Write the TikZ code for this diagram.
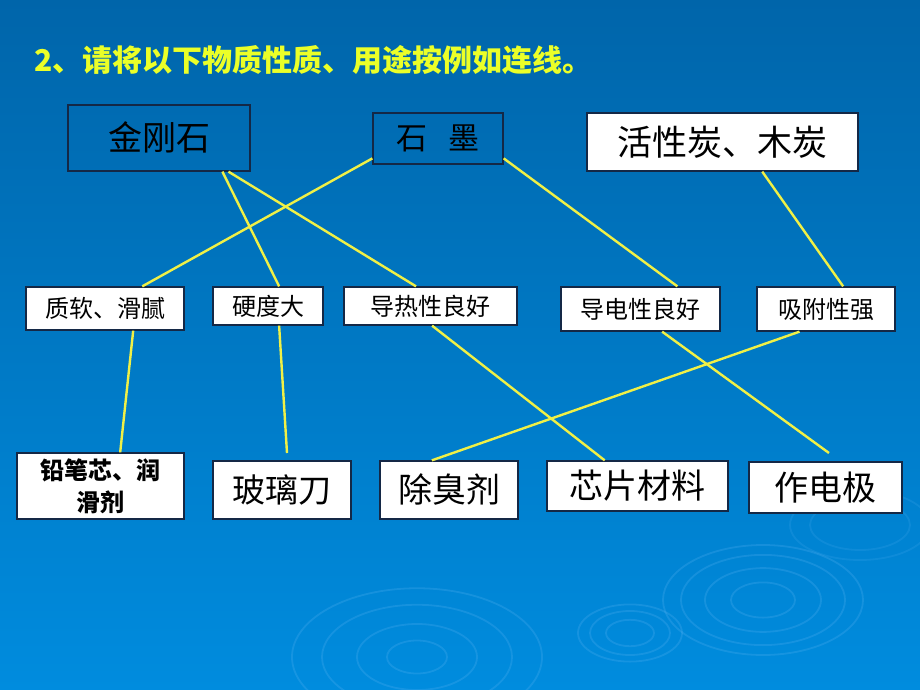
\documentclass[tikz,border=0pt]{standalone}
\usepackage{fontspec}
\newfontfamily\cjk{Noto Sans CJK SC}
\usetikzlibrary{calc}
\definecolor{bgtop}{RGB}{0,101,170}
\definecolor{bgmid}{RGB}{0,110,185}
\definecolor{bgbot}{RGB}{0,140,222}
\definecolor{ttl}{RGB}{235,255,40}
\definecolor{lnk}{RGB}{240,240,70}
\definecolor{bord}{RGB}{20,40,70}
\definecolor{ripple}{RGB}{80,175,240}
\begin{document}
\begin{tikzpicture}[x=1pt,y=-1pt,
  box/.style={draw=bord, line width=1.3pt, fill=white, inner sep=0pt, text=black, font=\cjk},
  darkbox/.style={box, fill=none},
  link/.style={draw=lnk, line width=2.4pt},
  rip/.style={draw=ripple, line width=1.8pt, opacity=0.28}]
\useasboundingbox (0,0) rectangle (920,690);
\shade[top color=bgtop, middle color=bgmid, bottom color=bgbot] (0,0) rectangle (920,690);
% ripples
\foreach \r in {100,82,58,32} {\draw[rip] (763,600) ellipse [x radius=\r pt, y radius=0.55*\r pt];}
\foreach \r in {52,40,24} {\draw[rip] (630,633) ellipse [x radius=\r pt, y radius=0.55*\r pt];}
\foreach \r in {125,95,60,30} {\draw[rip] (417,657) ellipse [x radius=\r pt, y radius=0.55*\r pt];}
\foreach \r in {70,50} {\draw[rip, opacity=0.18] (860,525) ellipse [x radius=\r pt, y radius=0.5*\r pt];}
% title
\node[anchor=west, text=ttl, inner sep=0pt, font=\cjk\bfseries\fontsize{30}{36}\selectfont] (title) at (34,60) {2、请将以下物质性质、用途按例如连线。};
% top row
\node[darkbox, minimum width=182pt, minimum height=66pt, font=\cjk\fontsize{34}{40}\selectfont] (jgs) at (159,138) {\raisebox{3pt}{金刚石}};
\node[darkbox, minimum width=130pt, minimum height=51pt, font=\cjk\fontsize{31}{36}\selectfont] (sm) at (438,138.5) {石\hspace{0.7em}墨};
\node[box, minimum width=271pt, minimum height=58pt, font=\cjk\fontsize{35}{40}\selectfont] (hxt) at (722.5,142) {活性炭、木炭};
% middle row
\node[box, minimum width=158pt, minimum height=43pt, font=\cjk\fontsize{24}{28}\selectfont] (zr) at (105,308.5) {质软、滑腻};
\node[box, minimum width=110pt, minimum height=38pt, font=\cjk\fontsize{24}{28}\selectfont] (yd) at (268,306) {硬度大};
\node[box, minimum width=173pt, minimum height=38pt, font=\cjk\fontsize{24}{28}\selectfont] (drx) at (430.5,306) {导热性良好};
\node[box, minimum width=159pt, minimum height=44pt, font=\cjk\fontsize{24}{28}\selectfont] (ddx) at (640.5,309) {导电性良好};
\node[box, minimum width=138pt, minimum height=44pt, font=\cjk\fontsize{24}{28}\selectfont] (xf) at (826,309) {吸附性强};
% bottom row
\node[box, minimum width=167pt, minimum height=66pt, align=center, font=\cjk\bfseries\fontsize{24}{32}\selectfont] (qbx) at (100.5,486) {\raisebox{-5pt}{铅笔芯、润}\\\raisebox{-5pt}{滑剂}};
\node[box, minimum width=138pt, minimum height=58pt, font=\cjk\fontsize{33}{38}\selectfont] (blq) at (282,490) {玻璃刀};
\node[box, minimum width=138pt, minimum height=58pt, font=\cjk\fontsize{34}{38}\selectfont] (ccj) at (449,490) {除臭剂};
\node[box, minimum width=181pt, minimum height=50pt, font=\cjk\fontsize{34}{38}\selectfont] (xp) at (637.5,486) {芯片材料};
\node[box, minimum width=153pt, minimum height=51pt, font=\cjk\fontsize{34}{38}\selectfont] (zdj) at (825.5,487.5) {作电极};
% free ends
\coordinate (e7) at (287,453);
\coordinate (e9) at (829,453);
% links
\draw[link] ($(sm.north west)!0.88!(sm.south west)$) -- ($(zr.north west)!0.734!(zr.north east)$);
\draw[link] ($(jgs.south west)!0.846!(jgs.south east)$) -- ($(yd.north west)!0.6!(yd.north east)$);
\draw[link] ($(jgs.south west)!0.879!(jgs.south east)$) -- ($(drx.north west)!0.417!(drx.north east)$);
\draw[link] ($(sm.north east)!0.88!(sm.south east)$) -- ($(ddx.north west)!0.73!(ddx.north east)$);
\draw[link] ($(hxt.south west)!0.646!(hxt.south east)$) -- ($(xf.north west)!0.623!(xf.north east)$);
\draw[link] ($(zr.south west)!0.677!(zr.south east)$) -- ($(qbx.north west)!0.617!(qbx.north east)$);
\draw[link] ($(yd.south west)!0.6!(yd.south east)$) -- (e7);
\draw[link] ($(drx.south west)!0.509!(drx.south east)$) -- ($(xp.north west)!0.32!(xp.north east)$);
\draw[link] ($(ddx.south west)!0.635!(ddx.south east)$) -- (e9);
\draw[link] ($(xf.south west)!0.31!(xf.south east)$) -- ($(ccj.north west)!0.377!(ccj.north east)$);
\end{tikzpicture}
\end{document}
